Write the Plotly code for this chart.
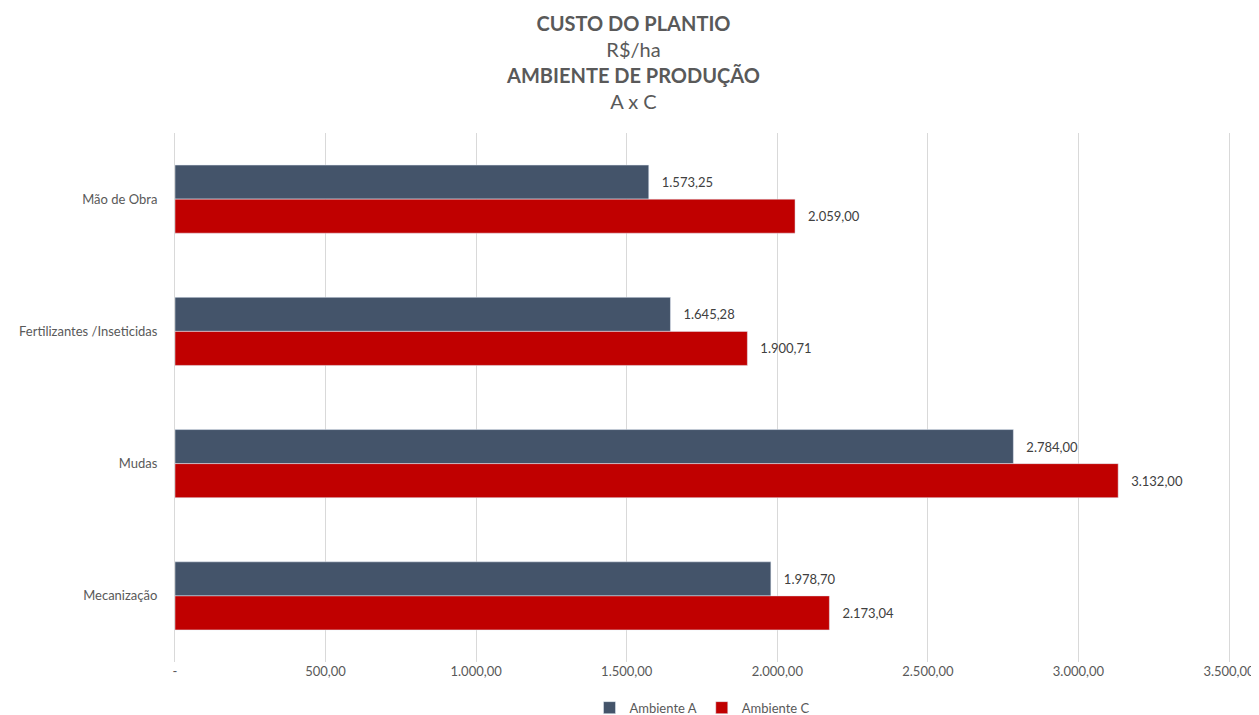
import plotly.graph_objects as go

categories = ["Mão de Obra", "Fertilizantes /Inseticidas", "Mudas", "Mecanização"]
ambiente_a = [1573.25, 1645.28, 2784.00, 1978.70]
ambiente_c = [2059.00, 1900.71, 3132.00, 2173.04]
tick_vals = [0, 500, 1000, 1500, 2000, 2500, 3000, 3500]
tick_text = ["-", "500,00", "1.000,00", "1.500,00", "2.000,00", "2.500,00", "3.000,00", "3.500,00"]

def fmt(v):
    s = f"{v:,.2f}"
    return s.replace(",", "X").replace(".", ",").replace("X", ".")

font_family = "Lato, 'Open Sans', sans-serif"

fig = go.Figure()
fig.add_trace(go.Bar(
    y=categories, x=ambiente_a, orientation="h", name="Ambiente A",
    marker=dict(color="#44546A"),
    text=["   " + fmt(v) for v in ambiente_a], textposition="outside",
    textfont=dict(size=13, color="#404040", family=font_family),
    cliponaxis=False,
))
fig.add_trace(go.Bar(
    y=categories, x=ambiente_c, orientation="h", name="Ambiente C",
    marker=dict(color="#C00000"),
    text=["   " + fmt(v) for v in ambiente_c], textposition="outside",
    textfont=dict(size=13, color="#404040", family=font_family),
    cliponaxis=False,
))

fig.update_layout(
    width=1251, height=707,
    paper_bgcolor="white", plot_bgcolor="white",
    font=dict(family=font_family, color="#595959"),
    barmode="group", bargap=0.485, bargroupgap=0,
    margin=dict(l=167, r=30, t=125, b=53, autoexpand=False),
    title=dict(
        text="<b>CUSTO DO PLANTIO</b><br>R$/ha<br><b>AMBIENTE DE PRODUÇÃO</b><br>A x C",
        x=0.5, xanchor="center", y=0.968, yanchor="top", yref="container",
        font=dict(size=20, color="#595959", family=font_family),
    ),
    xaxis=dict(
        range=[0, 3500], tickvals=tick_vals, ticktext=tick_text,
        showgrid=True, gridcolor="#D9D9D9", gridwidth=1,
        zeroline=False, showline=False, automargin=False,
        tickfont=dict(size=13, color="#595959"), ticks="",
    ),
    yaxis=dict(
        autorange="reversed", showgrid=False, zeroline=False,
        showline=True, mirror=True, linecolor="#D9D9D9", linewidth=1, automargin=False,
        tickfont=dict(size=13, color="#595959"), ticks="", ticklen=0,
        ticklabelstandoff=14,
    ),
    legend=dict(
        orientation="h", x=0.5, xanchor="center", y=-0.058, yanchor="top",
        font=dict(size=13, color="#595959"),
    ),
)

fig.write_html("out.html")
